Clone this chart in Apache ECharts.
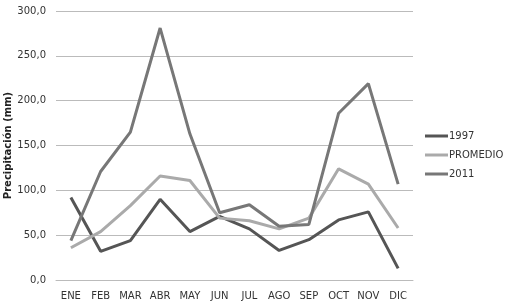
<!DOCTYPE html>
<html>
<head>
<meta charset="utf-8">
<script src="https://cdn.jsdelivr.net/npm/echarts@6/dist/echarts.min.js"></script>
<style>
html, body { margin: 0; padding: 0; background: #fff; }
#main { width: 506px; height: 306px; }
</style>
</head>
<body>
<div id="main"></div>
<script>
var months = ['ENE', 'FEB', 'MAR', 'ABR', 'MAY', 'JUN', 'JUL', 'AGO', 'SEP', 'OCT', 'NOV', 'DIC'];
var y1997 = [92, 32, 44, 90, 54, 71, 57, 33, 45, 67, 76, 13];
var promedio = [36, 54, 83, 116, 111, 69, 66, 57, 69, 124, 107, 58];
var y2011 = [44, 121, 165, 281, 163, 75, 84, 60, 62, 186, 219, 107];

var chartDom = document.getElementById('main');
var myChart = echarts.init(chartDom, null, { renderer: 'canvas' });

function line(name, data, color) {
    return {
        name: name,
        type: 'line',
        data: data,
        symbol: 'none',
        animation: false,
        lineStyle: { color: color, width: 3 },
        itemStyle: { color: color }
    };
}

var option = {
    backgroundColor: '#fff',
    textStyle: { fontFamily: 'DejaVu Sans' },
    grid: { left: 56, right: 93, top: 11, bottom: 26, outerBoundsMode: 'none', containLabel: false },
    legend: {
        orient: 'vertical',
        left: 420,
        top: 126,
        itemWidth: 23,
        itemHeight: 3,
        itemGap: 9,
        icon: 'rect',
        textStyle: { fontSize: 10, color: '#333', padding: [0, 0, 0, -4] },
        data: ['1997', 'PROMEDIO', '2011']
    },
    xAxis: {
        type: 'category',
        data: months,
        boundaryGap: true,
        axisLine: { lineStyle: { color: '#bbb', width: 1 } },
        axisTick: { show: false },
        axisLabel: { color: '#333', fontSize: 10, margin: 11, interval: 0 }
    },
    yAxis: {
        type: 'value',
        min: 0,
        max: 300,
        interval: 50,
        name: 'Precipitación (mm)',
        nameLocation: 'middle',
        nameGap: 43,
        nameMoveOverlap: false,
        nameTextStyle: { fontWeight: 'bold', fontSize: 10, color: '#222' },
        axisLine: { show: false },
        axisTick: { show: false },
        splitLine: { lineStyle: { color: '#bbb', width: 1 } },
        axisLabel: {
            color: '#333',
            fontSize: 10,
            margin: 10,
            formatter: function (v) { return v.toFixed(1).replace('.', ','); }
        }
    },
    series: [
        line('1997', y1997, '#555555'),
        line('PROMEDIO', promedio, '#aaaaaa'),
        line('2011', y2011, '#777777')
    ]
};
myChart.setOption(option);
</script>
</body>
</html>
